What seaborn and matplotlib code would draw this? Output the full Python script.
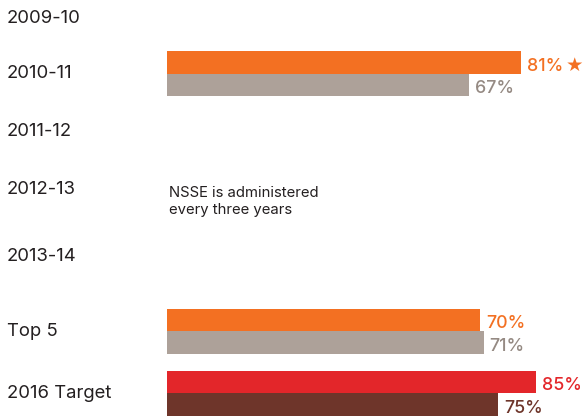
import numpy as np
import pandas as pd
import matplotlib
matplotlib.use("Agg")
import matplotlib.pyplot as plt
import matplotlib.transforms as mtransforms
import seaborn as sns

# ---- data -------------------------------------------------------------
periods = ["2009-10", "2010-11", "2011-12", "2012-13", "2013-14", "Top 5", "2016 Target"]
first_year = [np.nan, 81, np.nan, np.nan, np.nan, 70, 85]
senior = [np.nan, 67, np.nan, np.nan, np.nan, 71, 75]
groups = ["First-year", "Senior"]
target_period = "2016 Target"
starred = ("2010-11", "First-year")
note = "NSSE is administered\nevery three years"

# ---- layout & style ---------------------------------------------------
ROW_Y = [18.5, 73.5, 131.5, 190, 256.5, 331, 393]   # row centres, in px from top
NOTE_Y = 201.5
PAIR_HEIGHT = 45            # height of a pair of bars, px
BAR_BASE = -14.2            # common baseline of the bars (value units)
PX_PER_PCT = 3.716
BASE_PX = 167
W, H = 584, 418

bar_colors = {"First-year": "#F37022", "Senior": "#ADA199"}
target_colors = {"First-year": "#E3262A", "Senior": "#6E352A"}
label_colors = {"First-year": "#F37022", "Senior": "#958A83"}
target_label_colors = {"First-year": "#E3262A", "Senior": "#6E352A"}
TEXT = "#231F20"

sns.set_theme(style="white")
plt.rcParams["font.family"] = ["Inter", "DejaVu Sans"]

row_pos = dict(zip(periods, ROW_Y))
df = pd.DataFrame({
    "period": periods * 2,
    "group": [groups[0]] * len(periods) + [groups[1]] * len(periods),
    "pct": first_year + senior,
}).dropna()
df["ypos"] = df["period"].map(row_pos)

bar_rows = np.unique(df["ypos"])
width = PAIR_HEIGHT / np.min(np.diff(bar_rows))

fig = plt.figure(figsize=(W / 100, H / 100), dpi=100)
ax = fig.add_axes([0, 0, 1, 1])

sns.barplot(data=df, x="pct", y="ypos", hue="group", hue_order=groups,
            orient="y", native_scale=True, palette=bar_colors, width=width,
            dodge=True, saturation=1, linewidth=0, errorbar=None,
            legend=False, ax=ax)

x_left = BAR_BASE - BASE_PX / PX_PER_PCT
x_right = BAR_BASE + (W - BASE_PX) / PX_PER_PCT
ax.set_xlim(x_left, x_right)
ax.set_ylim(H, 0)
ax.axis("off")

def period_of(y):
    return periods[int(np.argmin([abs(y - r) for r in ROW_Y]))]

for group, container in zip(groups, ax.containers):
    for bar in container:
        end = bar.get_x() + bar.get_width()
        bar.set_x(BAR_BASE)
        bar.set_width(end - BAR_BASE)
        yc = bar.get_y() + bar.get_height() / 2
        period = period_of(yc)
        is_target = period == target_period
        if is_target:
            bar.set_facecolor(target_colors[group])
        color = target_label_colors[group] if is_target else label_colors[group]
        txt = ax.annotate(f"{end:.0f}%", xy=(end, yc), xytext=(4.3, -3),
                          textcoords="offset points", ha="left", va="center",
                          fontsize=12.8, fontweight="medium", color=color)
        if (period, group) == starred:
            ax.annotate("\u2605", xy=(1, 0.5), xycoords=txt, xytext=(2, 0.5),
                        textcoords="offset points", ha="left", va="center",
                        fontsize=14, color=color, family="DejaVu Sans")

# period labels down the left side
trans = mtransforms.blended_transform_factory(ax.transAxes, ax.transData)
for period, y in zip(periods, ROW_Y):
    ax.text(7 / W, y, period, transform=trans, ha="left", va="center",
            fontsize=13.3, color=TEXT)

ax.text(169 / W, NOTE_Y, note, transform=trans, ha="left", va="center",
        fontsize=10.7, color=TEXT, linespacing=1.3)

fig.savefig("out.png", dpi=100)
